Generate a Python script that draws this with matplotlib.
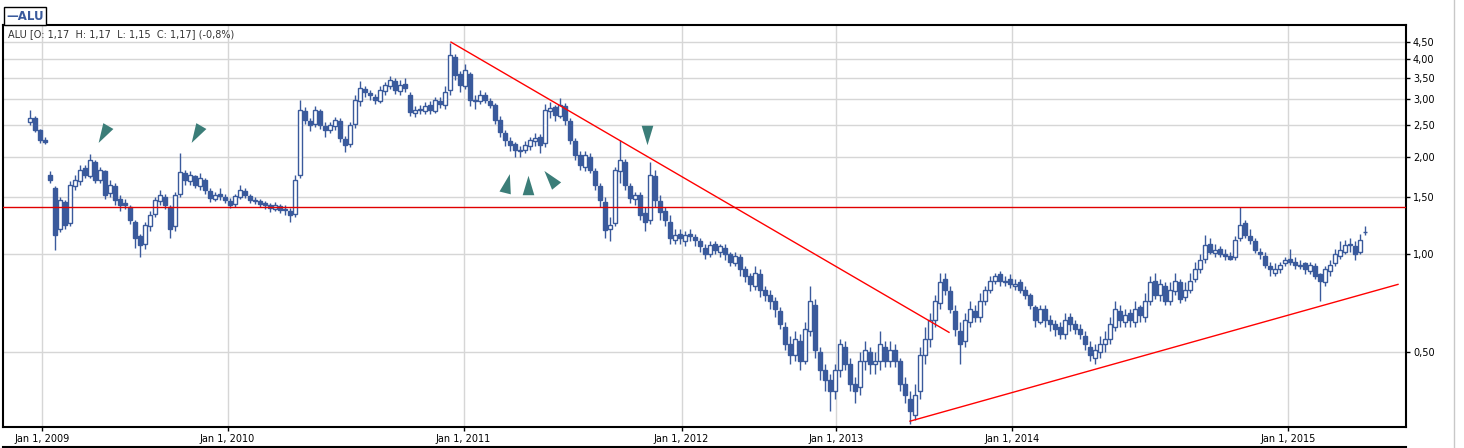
import numpy as np
import matplotlib.pyplot as plt
from matplotlib.lines import Line2D
from matplotlib.markers import MarkerStyle
from matplotlib.transforms import Affine2D
from matplotlib.ticker import FixedLocator, FuncFormatter, NullLocator

# ===== datos (precios, una vela por posicion) =====
opens = [
    2.55, 2.62, 2.41, 2.25, 1.75, 1.60, 1.20, 1.45, 1.25, 1.62,
    1.68, 1.84, 1.74, 1.92, 1.70, 1.80, 1.55, 1.62, 1.48, 1.44,
    1.40, 1.26, 1.14, 1.08, 1.22, 1.33, 1.46, 1.50, 1.40, 1.22,
    1.54, 1.78, 1.68, 1.74, 1.62, 1.70, 1.57, 1.48, 1.53, 1.50,
    1.46, 1.43, 1.50, 1.57, 1.51, 1.46, 1.46, 1.44, 1.42, 1.38,
    1.41, 1.38, 1.36, 1.33, 1.75, 2.76, 2.57, 2.52, 2.76, 2.48,
    2.42, 2.49, 2.57, 2.27, 2.18, 2.52, 2.96, 3.22, 3.14, 3.06,
    2.96, 3.18, 3.30, 3.42, 3.18, 3.34, 3.10, 2.72, 2.80, 2.76,
    2.88, 2.76, 2.96, 2.88, 3.20, 4.05, 3.60, 3.30, 3.60, 2.96,
    2.96, 3.10, 2.96, 2.88, 2.60, 2.36, 2.24, 2.18, 2.08, 2.10,
    2.16, 2.24, 2.30, 2.20, 2.76, 2.84, 2.66, 2.86, 2.58, 2.24,
    2.02, 1.86, 2.00, 1.80, 1.62, 1.45, 1.20, 1.25, 1.80, 1.92,
    1.62, 1.48, 1.52, 1.34, 1.28, 1.74, 1.46, 1.36, 1.26, 1.11,
    1.16, 1.10, 1.16, 1.13, 1.10, 1.05, 1.00, 1.08, 1.02, 1.05,
    1.00, 0.94, 0.98, 0.90, 0.86, 0.80, 0.87, 0.78, 0.75, 0.72,
    0.67, 0.60, 0.53, 0.49, 0.54, 0.47, 0.58, 0.70, 0.50, 0.44,
    0.41, 0.38, 0.44, 0.52, 0.46, 0.40, 0.39, 0.47, 0.50, 0.46,
    0.47, 0.52, 0.47, 0.51, 0.47, 0.40, 0.36, 0.32, 0.38, 0.49,
    0.55, 0.63, 0.71, 0.84, 0.77, 0.67, 0.58, 0.54, 0.62, 0.67,
    0.64, 0.72, 0.78, 0.83, 0.87, 0.82, 0.84, 0.80, 0.82, 0.78,
    0.75, 0.69, 0.62, 0.68, 0.63, 0.61, 0.60, 0.57, 0.64, 0.61,
    0.59, 0.56, 0.52, 0.48, 0.50, 0.53, 0.55, 0.60, 0.67, 0.62,
    0.66, 0.62, 0.69, 0.64, 0.72, 0.83, 0.75, 0.80, 0.72, 0.77,
    0.82, 0.74, 0.78, 0.84, 0.90, 0.97, 1.08, 1.01, 1.04, 1.00,
    0.99, 0.98, 1.12, 1.25, 1.14, 1.10, 1.02, 0.99, 0.92, 0.88,
    0.90, 0.94, 0.97, 0.95, 0.92, 0.94, 0.89, 0.92, 0.87, 0.82,
    0.89, 0.94, 0.99, 1.02, 1.08, 1.06, 1.02, 1.17,
]
highs = [
    2.78, 2.66, 2.43, 2.30, 1.80, 1.62, 1.50, 1.47, 1.68, 1.76,
    1.88, 1.88, 2.04, 1.95, 1.86, 1.82, 1.70, 1.66, 1.52, 1.48,
    1.42, 1.28, 1.16, 1.26, 1.36, 1.50, 1.58, 1.54, 1.42, 1.56,
    2.05, 1.82, 1.80, 1.76, 1.78, 1.72, 1.60, 1.56, 1.60, 1.53,
    1.49, 1.54, 1.64, 1.60, 1.53, 1.50, 1.48, 1.46, 1.44, 1.45,
    1.43, 1.42, 1.39, 1.76, 2.98, 2.85, 2.62, 2.86, 2.80, 2.56,
    2.56, 2.64, 2.62, 2.32, 2.56, 3.10, 3.42, 3.30, 3.20, 3.12,
    3.30, 3.40, 3.55, 3.48, 3.45, 3.50, 3.15, 2.86, 2.88, 2.95,
    2.96, 3.05, 3.05, 3.30, 4.48, 4.15, 3.68, 3.85, 3.65, 3.10,
    3.20, 3.16, 3.02, 2.92, 2.66, 2.42, 2.30, 2.22, 2.16, 2.24,
    2.30, 2.36, 2.34, 2.90, 2.95, 2.88, 3.02, 2.92, 2.62, 2.28,
    2.08, 2.08, 2.05, 1.84, 1.66, 1.50, 1.30, 1.86, 2.25, 1.96,
    1.66, 1.56, 1.56, 1.40, 1.92, 1.82, 1.52, 1.40, 1.32, 1.20,
    1.20, 1.18, 1.20, 1.16, 1.12, 1.08, 1.10, 1.10, 1.08, 1.08,
    1.02, 1.02, 1.00, 0.92, 0.88, 0.92, 0.90, 0.80, 0.78, 0.74,
    0.69, 0.62, 0.56, 0.58, 0.57, 0.62, 0.80, 0.73, 0.52, 0.46,
    0.43, 0.46, 0.55, 0.54, 0.48, 0.42, 0.50, 0.54, 0.52, 0.50,
    0.58, 0.54, 0.54, 0.53, 0.48, 0.42, 0.38, 0.40, 0.52, 0.60,
    0.66, 0.75, 0.88, 0.88, 0.80, 0.70, 0.62, 0.66, 0.72, 0.70,
    0.76, 0.80, 0.86, 0.88, 0.89, 0.86, 0.87, 0.84, 0.84, 0.80,
    0.76, 0.70, 0.70, 0.70, 0.65, 0.63, 0.62, 0.66, 0.66, 0.63,
    0.61, 0.58, 0.54, 0.53, 0.56, 0.58, 0.64, 0.72, 0.70, 0.68,
    0.68, 0.72, 0.70, 0.76, 0.86, 0.88, 0.84, 0.82, 0.82, 0.88,
    0.84, 0.82, 0.88, 0.95, 1.00, 1.15, 1.12, 1.08, 1.06, 1.04,
    1.02, 1.14, 1.40, 1.28, 1.20, 1.12, 1.05, 1.02, 0.95, 0.94,
    0.95, 0.98, 1.04, 0.98, 0.96, 0.95, 0.95, 0.94, 0.88, 0.92,
    0.96, 1.04, 1.10, 1.11, 1.12, 1.10, 1.16, 1.22,
]
lows = [
    2.50, 2.38, 2.20, 2.18, 1.66, 1.03, 1.17, 1.20, 1.22, 1.58,
    1.64, 1.72, 1.72, 1.66, 1.66, 1.48, 1.50, 1.42, 1.36, 1.38,
    1.24, 1.05, 0.98, 1.04, 1.18, 1.30, 1.42, 1.38, 1.12, 1.18,
    1.50, 1.64, 1.64, 1.60, 1.58, 1.54, 1.45, 1.46, 1.47, 1.44,
    1.39, 1.40, 1.48, 1.49, 1.44, 1.43, 1.40, 1.38, 1.35, 1.36,
    1.34, 1.32, 1.26, 1.30, 1.72, 2.52, 2.40, 2.46, 2.44, 2.30,
    2.36, 2.42, 2.22, 2.06, 2.14, 2.45, 2.86, 3.05, 2.98, 2.90,
    2.92, 3.10, 3.22, 3.12, 3.10, 3.16, 2.66, 2.64, 2.70, 2.70,
    2.70, 2.72, 2.82, 2.80, 3.10, 3.45, 3.15, 3.22, 2.86, 2.80,
    2.90, 2.92, 2.82, 2.52, 2.30, 2.16, 2.08, 2.00, 2.00, 2.05,
    2.10, 2.16, 2.05, 2.14, 2.62, 2.58, 2.62, 2.50, 2.18, 1.95,
    1.82, 1.80, 1.78, 1.58, 1.40, 1.12, 1.10, 1.22, 1.66, 1.58,
    1.44, 1.42, 1.28, 1.18, 1.24, 1.40, 1.28, 1.22, 1.08, 1.08,
    1.08, 1.06, 1.10, 1.06, 1.02, 0.97, 0.98, 1.00, 0.98, 0.96,
    0.92, 0.92, 0.86, 0.82, 0.77, 0.78, 0.74, 0.72, 0.68, 0.64,
    0.59, 0.51, 0.46, 0.47, 0.44, 0.46, 0.56, 0.48, 0.41, 0.38,
    0.33, 0.36, 0.42, 0.44, 0.38, 0.35, 0.37, 0.44, 0.43, 0.43,
    0.44, 0.45, 0.45, 0.45, 0.38, 0.35, 0.30, 0.31, 0.36, 0.46,
    0.52, 0.60, 0.68, 0.75, 0.66, 0.56, 0.46, 0.52, 0.60, 0.62,
    0.62, 0.70, 0.76, 0.81, 0.80, 0.80, 0.79, 0.78, 0.76, 0.73,
    0.68, 0.60, 0.61, 0.60, 0.58, 0.56, 0.55, 0.55, 0.58, 0.57,
    0.55, 0.51, 0.47, 0.46, 0.48, 0.50, 0.53, 0.58, 0.60, 0.60,
    0.60, 0.60, 0.62, 0.62, 0.70, 0.73, 0.72, 0.70, 0.70, 0.75,
    0.71, 0.72, 0.76, 0.82, 0.88, 0.94, 1.00, 0.98, 0.98, 0.96,
    0.96, 0.96, 1.10, 1.12, 1.08, 1.01, 0.97, 0.91, 0.86, 0.86,
    0.88, 0.92, 0.93, 0.90, 0.90, 0.87, 0.87, 0.84, 0.72, 0.80,
    0.86, 0.92, 0.97, 1.00, 1.02, 0.96, 1.00, 1.15,
]
closes = [
    2.62, 2.41, 2.25, 2.22, 1.69, 1.15, 1.47, 1.23, 1.64, 1.69,
    1.82, 1.76, 1.95, 1.69, 1.82, 1.52, 1.64, 1.47, 1.42, 1.42,
    1.28, 1.12, 1.07, 1.23, 1.32, 1.47, 1.52, 1.42, 1.20, 1.52,
    1.79, 1.69, 1.76, 1.64, 1.72, 1.58, 1.49, 1.52, 1.51, 1.47,
    1.42, 1.51, 1.58, 1.52, 1.47, 1.47, 1.43, 1.42, 1.39, 1.42,
    1.37, 1.37, 1.32, 1.69, 2.78, 2.59, 2.50, 2.78, 2.50, 2.41,
    2.50, 2.59, 2.28, 2.17, 2.50, 2.98, 3.25, 3.16, 3.09, 2.98,
    3.20, 3.32, 3.44, 3.20, 3.32, 3.25, 2.74, 2.78, 2.78, 2.86,
    2.78, 2.98, 2.90, 3.16, 4.11, 3.57, 3.32, 3.70, 2.98, 2.98,
    3.09, 2.98, 2.88, 2.59, 2.38, 2.25, 2.17, 2.09, 2.09, 2.17,
    2.25, 2.28, 2.17, 2.78, 2.82, 2.68, 2.88, 2.59, 2.25, 2.02,
    1.88, 2.02, 1.82, 1.64, 1.47, 1.19, 1.23, 1.82, 1.95, 1.64,
    1.49, 1.52, 1.32, 1.26, 1.76, 1.47, 1.35, 1.28, 1.12, 1.15,
    1.12, 1.15, 1.14, 1.11, 1.06, 1.00, 1.07, 1.03, 1.06, 1.00,
    0.95, 0.99, 0.90, 0.86, 0.81, 0.88, 0.78, 0.75, 0.72, 0.68,
    0.61, 0.53, 0.49, 0.55, 0.47, 0.59, 0.72, 0.51, 0.44, 0.41,
    0.38, 0.44, 0.53, 0.46, 0.40, 0.38, 0.47, 0.51, 0.46, 0.47,
    0.53, 0.47, 0.51, 0.47, 0.40, 0.37, 0.33, 0.37, 0.49, 0.55,
    0.63, 0.72, 0.82, 0.78, 0.68, 0.59, 0.53, 0.63, 0.68, 0.64,
    0.72, 0.78, 0.83, 0.86, 0.83, 0.83, 0.81, 0.81, 0.78, 0.75,
    0.70, 0.63, 0.68, 0.63, 0.61, 0.59, 0.57, 0.63, 0.61, 0.59,
    0.57, 0.53, 0.49, 0.51, 0.53, 0.55, 0.61, 0.68, 0.63, 0.65,
    0.63, 0.68, 0.65, 0.72, 0.82, 0.75, 0.81, 0.72, 0.78, 0.83,
    0.73, 0.78, 0.83, 0.90, 0.96, 1.07, 1.02, 1.03, 1.00, 0.99,
    0.97, 1.11, 1.23, 1.15, 1.11, 1.03, 1.00, 0.93, 0.90, 0.90,
    0.93, 0.96, 0.95, 0.93, 0.93, 0.90, 0.93, 0.86, 0.83, 0.90,
    0.93, 1.00, 1.03, 1.07, 1.07, 1.00, 1.11, 1.17,
]

# etiquetas del eje x (posicion en velas donde cae cada 1 de enero)
fechas = ["Jan 1, 2009", "Jan 1, 2010", "Jan 1, 2011", "Jan 1, 2012",
          "Jan 1, 2013", "Jan 1, 2014", "Jan 1, 2015"]
fechas_pos = [2.46, 39.5, 86.7, 130.3, 161.2, 196.4, 251.6]

niveles_y = [0.5, 1.0, 1.5, 2.0, 2.5, 3.0, 3.5, 4.0, 4.5]

# lineas de tendencia dibujadas a mano (vela, precio)
tend_baj = ([84.2, 183.8], [4.50, 0.576])
tend_alc = ([176.0, 273.6], [0.307, 0.809])
nivel_hor = 1.396

# triangulos de marca: vela, precio, hacia donde apunta (grados)
marcas_x = [14.6, 33.2, 95.3, 99.5, 104.0, 123.4]
marcas_y = [2.35, 2.35, 1.66, 1.63, 1.72, 2.33]
marcas_rot = [150, 150, -14, 0, 39, 180]

# ===== grafico =====
AZUL = "#3a5a9c"
W, H = 1464, 448
fig = plt.figure(figsize=(W / 100, H / 100), dpi=100)
ax = fig.add_axes([3 / W, 21 / H, 1403 / W, 402 / H])

o = np.array(opens)
h = np.array(highs)
l = np.array(lows)
c = np.array(closes)
x = np.arange(len(c))

sube = c >= o
ax.vlines(x, l, h, color=AZUL, lw=1, zorder=2)
ancho = 0.62
ax.bar(x[sube], c[sube] - o[sube], bottom=o[sube], width=ancho,
       facecolor="white", edgecolor=AZUL, linewidth=1, zorder=3)
ax.bar(x[~sube], o[~sube] - c[~sube], bottom=c[~sube], width=ancho,
       facecolor=AZUL, edgecolor=AZUL, linewidth=1, zorder=3)

ax.plot(*tend_baj, color="#ff0000", lw=1, zorder=4)
ax.plot(*tend_alc, color="#ff0000", lw=1, zorder=4)
ax.axhline(nivel_hor, color="#e00000", lw=1, zorder=4)

# triangulo estrecho (isosceles) apuntando hacia arriba
tri = [(0, 0.5), (-0.3, -0.5), (0.3, -0.5), (0, 0.5)]
for mx, my, mr in zip(marcas_x, marcas_y, marcas_rot):
    ms = MarkerStyle(tri, transform=Affine2D().rotate_deg(mr))
    ax.plot(mx, my, marker=ms, markersize=14, color="#3b7d78",
            markeredgewidth=0, zorder=5)

ax.set_yscale("log")
ax.set_ylim(0.2946, 5.08)
ax.set_xlim(-5.4, 275.2)
ax.yaxis.set_major_locator(FixedLocator(niveles_y))
ax.yaxis.set_minor_locator(NullLocator())
ax.yaxis.set_major_formatter(FuncFormatter(lambda v, p: f"{v:.2f}".replace(".", ",")))
ax.yaxis.tick_right()
ax.set_xticks(fechas_pos)
ax.set_xticklabels(fechas)
ax.tick_params(axis="both", labelsize=7, length=3, width=1, color="black", pad=2)
ax.grid(True, color="#d6d6d6", lw=1, zorder=0)
ax.set_axisbelow(True)
for s in ax.spines.values():
    s.set_linewidth(1.5)

# cabecera
fig.text(8 / W, 1 - 34 / H, "ALU [O: 1,17  H: 1,17  L: 1,15  C: 1,17] (-0,8%)",
         fontsize=7, color="#333333", va="center")
fig.text(6 / W, 1 - 16 / H, "\u2014ALU", fontsize=8.5, color=AZUL, fontweight="bold",
         va="center", bbox=dict(boxstyle="square,pad=0.2", facecolor="white",
                                edgecolor="black", linewidth=1))
fig.add_artist(Line2D([3 / W, 1406 / W], [1 / H, 1 / H], color="black", lw=1.5))
fig.add_artist(Line2D([1454 / W, 1454 / W], [0, 1], color="#c8c8c8", lw=1))

fig.savefig("out.png", dpi=100)
